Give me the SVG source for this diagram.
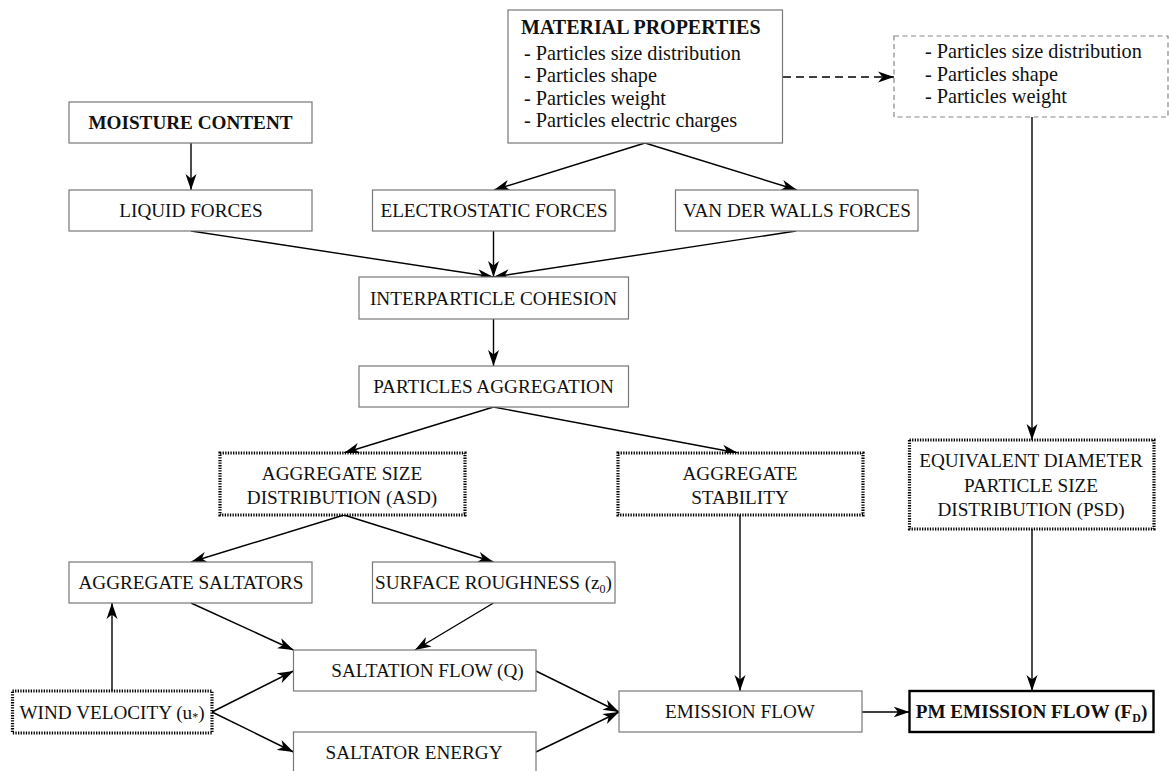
<svg xmlns="http://www.w3.org/2000/svg" width="1169" height="771" viewBox="0 0 1169 771">
<style>
text{font-family:"Liberation Serif","Times New Roman",serif;font-size:19.2px;fill:#111;}
.c{text-anchor:middle;}
.b{font-weight:bold;}
.m{font-size:20.3px;}
.mt{font-size:20px;font-weight:bold;}
.box{fill:#fff;stroke:#777;stroke-width:1.2;}
.dash{fill:#fff;stroke:#888;stroke-width:1.2;stroke-dasharray:5,3.5;}
.dot{fill:#fff;stroke:#000;stroke-width:3.2;stroke-dasharray:1.3,1.3;}
.thick{fill:#fff;stroke:#000;stroke-width:2.4;}
.ln{fill:none;stroke:#000;stroke-width:1.4;marker-end:url(#ah);}
.dl{fill:none;stroke:#000;stroke-width:1.4;stroke-dasharray:8,5;marker-end:url(#ah);}
.sub{font-size:12px;}
</style>
<defs>
<marker id="ah" markerUnits="userSpaceOnUse" markerWidth="18" markerHeight="12" refX="16" refY="6" orient="auto">
<path d="M0,0.5 L16,6 L0,11.5 L4.5,6 z" fill="#000"/>
</marker>
</defs>
<rect width="1169" height="771" fill="#fff"/>
<g id="connectors">
<line class="ln" x1="191" y1="143" x2="191" y2="190"/>
<line class="ln" x1="645" y1="143" x2="494" y2="190"/>
<line class="ln" x1="645" y1="143" x2="797" y2="190"/>
<line class="dl" x1="783" y1="77" x2="894" y2="77"/>
<line class="ln" x1="1032" y1="117" x2="1032" y2="440"/>
<line class="ln" x1="191" y1="231" x2="493.5" y2="277"/>
<line class="ln" x1="493.5" y1="231" x2="493.5" y2="277"/>
<line class="ln" x1="796" y1="231" x2="493.5" y2="277"/>
<line class="ln" x1="493.5" y1="319" x2="493.5" y2="366"/>
<line class="ln" x1="493.5" y1="407" x2="344" y2="453"/>
<line class="ln" x1="493.5" y1="407" x2="738" y2="453"/>
<line class="ln" x1="344" y1="515" x2="191" y2="562"/>
<line class="ln" x1="344" y1="515" x2="493.5" y2="562"/>
<line class="ln" x1="191" y1="603" x2="293.5" y2="650"/>
<line class="ln" x1="493.5" y1="603" x2="415" y2="650"/>
<line class="ln" x1="112" y1="691" x2="112" y2="603"/>
<line class="ln" x1="212" y1="712" x2="293.5" y2="671"/>
<line class="ln" x1="212" y1="712" x2="293.5" y2="752"/>
<line class="ln" x1="536" y1="671" x2="619" y2="712"/>
<line class="ln" x1="536" y1="752" x2="619" y2="712"/>
<line class="ln" x1="740" y1="515" x2="740" y2="691"/>
<line class="ln" x1="862" y1="712" x2="909.5" y2="712"/>
<line class="ln" x1="1032" y1="529" x2="1032" y2="691"/>
</g>
<g id="material">
<rect class="box" x="508" y="10" width="274.5" height="133"/>
<text class="mt" x="521" y="33.5">MATERIAL PROPERTIES</text>
<text class="m" x="524" y="59.5">- Particles size distribution</text>
<text class="m" x="524" y="82">- Particles shape</text>
<text class="m" x="524" y="104.5">- Particles weight</text>
<text class="m" x="524" y="127">- Particles electric charges</text>
</g>
<g id="material-copy">
<rect class="dash" x="894" y="36" width="274" height="81"/>
<text class="m" x="925" y="57.5">- Particles size distribution</text>
<text class="m" x="925" y="80.5">- Particles shape</text>
<text class="m" x="925" y="103">- Particles weight</text>
</g>
<g id="moisture">
<rect class="box" x="69" y="102" width="243" height="41"/>
<text class="c b" x="190.5" y="129">MOISTURE CONTENT</text>
</g>
<g id="liquid">
<rect class="box" x="69" y="190" width="243" height="41"/>
<text class="c" x="191" y="217">LIQUID FORCES</text>
</g>
<g id="electrostatic">
<rect class="box" x="372.5" y="190" width="242.5" height="41"/>
<text class="c" x="494" y="217">ELECTROSTATIC FORCES</text>
</g>
<g id="vanderwalls">
<rect class="box" x="675.5" y="190" width="242.5" height="41"/>
<text class="c" x="797" y="217">VAN DER WALLS FORCES</text>
</g>
<g id="cohesion">
<rect class="box" x="359" y="277" width="269.5" height="42"/>
<text class="c" x="493.5" y="304.5">INTERPARTICLE COHESION</text>
</g>
<g id="aggregation">
<rect class="box" x="359" y="366" width="269.5" height="41"/>
<text class="c" x="493.5" y="393">PARTICLES AGGREGATION</text>
</g>
<g id="asd">
<rect class="dot" x="220" y="453" width="245" height="62"/>
<text class="c" x="342" y="480">AGGREGATE SIZE</text>
<text class="c" x="342" y="504">DISTRIBUTION (ASD)</text>
</g>
<g id="stability">
<rect class="dot" x="618" y="453" width="245" height="62"/>
<text class="c" x="740" y="480">AGGREGATE</text>
<text class="c" x="740" y="504">STABILITY</text>
</g>
<g id="psd">
<rect class="dot" x="909.5" y="440" width="244.5" height="89"/>
<text class="c" x="1031" y="466.5">EQUIVALENT DIAMETER</text>
<text class="c" x="1031" y="491.5">PARTICLE SIZE</text>
<text class="c" x="1031" y="516">DISTRIBUTION (PSD)</text>
</g>
<g id="saltators">
<rect class="box" x="69" y="562" width="243" height="41"/>
<text class="c" x="191" y="589">AGGREGATE SALTATORS</text>
</g>
<g id="roughness">
<rect class="box" x="372.5" y="562" width="242.5" height="41"/>
<text class="c" x="493.5" y="589">SURFACE ROUGHNESS (z<tspan class="sub" dy="4">0</tspan><tspan dy="-4">)</tspan></text>
</g>
<g id="saltation">
<rect class="box" x="293.5" y="650" width="242.5" height="41"/>
<text class="c" x="427.5" y="677">SALTATION FLOW (Q)</text>
</g>
<g id="energy">
<rect class="box" x="293.5" y="732" width="242.5" height="45"/>
<text class="c" x="414" y="758.5">SALTATOR ENERGY</text>
</g>
<g id="wind">
<rect class="dot" x="12.5" y="691" width="199.5" height="42"/>
<text class="c" x="112" y="718.5">WIND VELOCITY (u<tspan class="sub" dy="2">*</tspan><tspan dy="-2">)</tspan></text>
</g>
<g id="emission">
<rect class="box" x="619" y="691" width="243" height="41"/>
<text class="c" x="740" y="718">EMISSION FLOW</text>
</g>
<g id="pm">
<rect class="thick" x="909.5" y="691" width="244" height="41"/>
<text class="c b" x="1031.5" y="718">PM EMISSION FLOW (F<tspan class="sub" dy="4">D</tspan><tspan dy="-4">)</tspan></text>
</g>
</svg>
